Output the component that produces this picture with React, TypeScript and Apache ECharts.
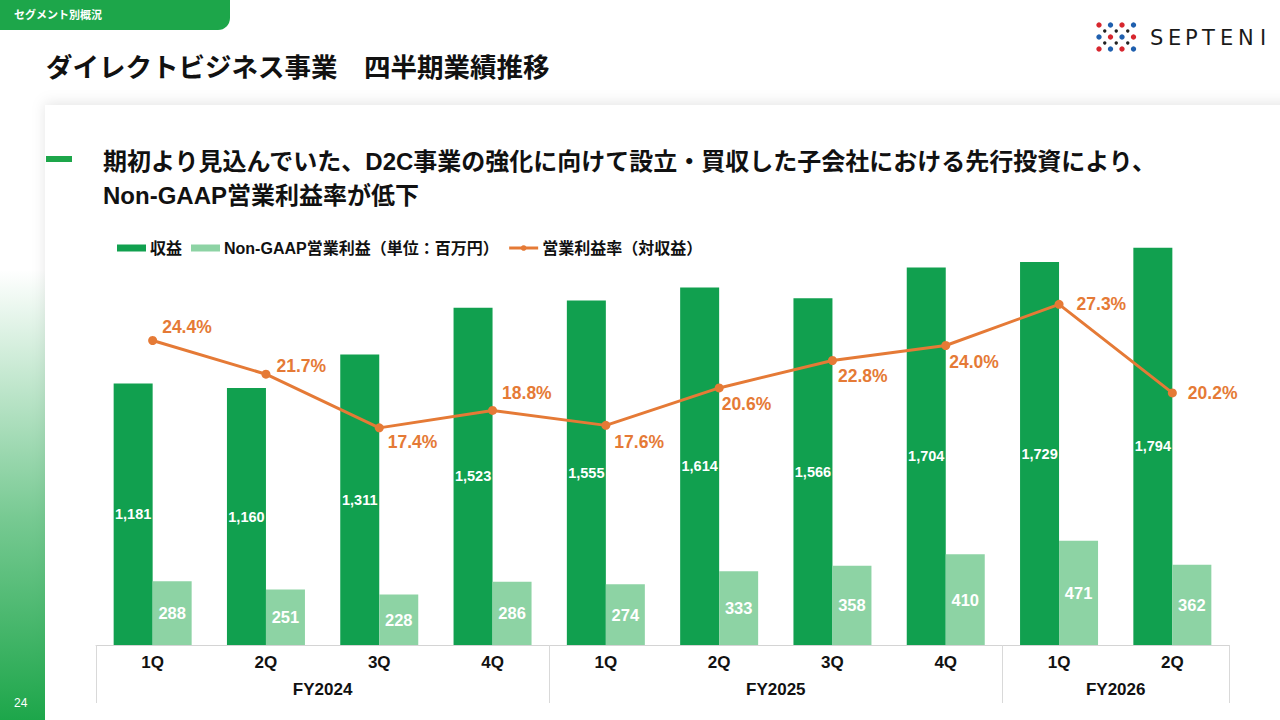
import React, { useEffect, useRef } from "react";
import * as echarts from "echarts";

const categories = ["1Q", "2Q", "3Q", "4Q", "1Q", "2Q", "3Q", "4Q", "1Q", "2Q"];
const fiscalYears = ["FY2024", "FY2025", "FY2026"];
const fiscalYearQuarterCounts = [4, 4, 2];
const revenue = [1181, 1160, 1311, 1523, 1555, 1614, 1566, 1704, 1729, 1794];
const operatingProfit = [288, 251, 228, 286, 274, 333, 358, 410, 471, 362];
const operatingMargin = [24.4, 21.7, 17.4, 18.8, 17.6, 20.6, 22.8, 24.0, 27.3, 20.2];

const seriesNames = ["収益", "Non-GAAP営業利益（単位：百万円）", "営業利益率（対収益）"];

// label placement styling for the margin line (dx, dy relative to default "right")
const marginLabelShift: [number, number][] = [
  [0, -14], [1, -8], [-1, 14], [0, -17], [-1, 17],
  [-7, 16], [-4, 16], [-6, 16], [8, 0], [6, 0],
];

const DARK = "#11A04F";
const LIGHT = "#8DD3A4";
const ORANGE = "#E57A36";
const FONT = "'Liberation Sans', 'Noto Sans CJK JP', sans-serif";

export default function App() {
  const ref = useRef<HTMLDivElement>(null);
  useEffect(() => {
    if (!ref.current) return;
    const chart = echarts.init(ref.current, null, { renderer: "svg" });

    const boundaries: number[] = [0];
    fiscalYearQuarterCounts.forEach((c) => boundaries.push(boundaries[boundaries.length - 1] + c));
    const fyCenters = fiscalYearQuarterCounts.map((c, i) => boundaries[i] + c / 2);

    const dotColors = [
      ["#D7262E", "#1F5FAE", "#D7262E", "#1F5FAE"],
      ["#1F5FAE", "#D7262E", "#1F5FAE", "#D7262E"],
      ["#D7262E", "#1F5FAE", "#D7262E", "#1F5FAE"],
    ];
    const logoDots: any[] = [];
    dotColors.forEach((row, r) => {
      row.forEach((c, k) => {
        logoDots.push({
          type: "circle",
          shape: { cx: 1099 + k * 11.5, cy: 25 + r * 12, r: 2.7 },
          style: { fill: c },
        });
      });
      if (r < 2) {
        for (let k = 0; k < 3; k++) {
          logoDots.push({
            type: "circle",
            shape: { cx: 1104.75 + k * 11.5, cy: 31 + r * 12, r: 1.7 },
            style: { fill: "#222" },
          });
        }
      }
    });
    const logoLetters = ["S", "E", "P", "T", "E", "N", "I"];
    const logoX = [1150, 1168, 1185, 1202, 1220, 1238, 1260];

    const option: any = {
      animation: false,
      backgroundColor: "#ffffff",
      textStyle: { fontFamily: FONT },
      graphic: [
        {
          type: "rect",
          z: 0,
          shape: { x: 45, y: 105, width: 1300, height: 700 },
          style: { fill: "#ffffff", shadowBlur: 14, shadowColor: "rgba(0,0,0,0.10)", shadowOffsetY: -2 },
        },
        {
          type: "rect",
          z: 0,
          shape: { x: 0, y: 270, width: 45, height: 450 },
          style: {
            fill: new echarts.graphic.LinearGradient(0, 0, 0, 1, [
              { offset: 0, color: "rgba(29,166,74,0)" },
              { offset: 0.55, color: "rgba(29,166,74,0.6)" },
              { offset: 1, color: "rgba(29,166,74,1)" },
            ]),
          },
        },
        {
          type: "rect",
          z: 0,
          shape: { x: 0, y: 0, width: 230, height: 30, r: [0, 0, 12, 0] },
          style: { fill: "#1DA64A" },
        },
        {
          type: "text",
          z: 1,
          x: 14,
          y: 15,
          style: { text: "セグメント別概況", fill: "#fff", font: `bold 11px ${FONT}`, textVerticalAlign: "middle" },
        },
        {
          type: "text",
          z: 1,
          x: 46,
          y: 68,
          style: { text: "ダイレクトビジネス事業　四半期業績推移", fill: "#111", font: `bold 26.5px ${FONT}`, textVerticalAlign: "middle" },
        },
        ...logoDots,
        ...logoLetters.map((l, i) => ({
          type: "text",
          z: 1,
          x: logoX[i],
          y: 38,
          style: { text: l, fill: "#1a1a1a", font: `500 21px 'DejaVu Sans', sans-serif`, textVerticalAlign: "middle" },
        })),
        {
          type: "rect",
          z: 1,
          shape: { x: 46, y: 156, width: 26, height: 6 },
          style: { fill: "#1DA64A" },
        },
        {
          type: "text",
          z: 1,
          x: 103,
          y: 161,
          style: {
            text: "期初より見込んでいた、D2C事業の強化に向けて設立・買収した子会社における先行投資により、",
            fill: "#111",
            font: `bold 24px ${FONT}`,
            textVerticalAlign: "middle",
          },
        },
        {
          type: "text",
          z: 1,
          x: 103,
          y: 195,
          style: { text: "Non-GAAP営業利益率が低下", fill: "#111", font: `bold 24px ${FONT}`, textVerticalAlign: "middle" },
        },
        {
          type: "text",
          z: 1,
          x: 14,
          y: 703,
          style: { text: "24", fill: "#fff", font: `12px ${FONT}`, textVerticalAlign: "middle" },
        },
      ],
      legend: {
        left: 112,
        top: 235,
        itemWidth: 29,
        itemHeight: 7,
        itemGap: 9,
        textStyle: { fontSize: 16, fontWeight: "bold", color: "#111", fontFamily: FONT, padding: [0, 0, 0, -1] },
        data: [
          { name: seriesNames[0], icon: "rect" },
          { name: seriesNames[1], icon: "rect" },
          { name: seriesNames[2], lineStyle: { width: 3, color: ORANGE } },
        ],
      },
      grid: { left: 96, right: 51, top: 202, bottom: 75, containLabel: false },
      xAxis: [
        {
          type: "category",
          data: categories,
          axisLine: { lineStyle: { color: "#d4d4d4", width: 1 } },
          axisTick: { show: false },
          axisLabel: { fontSize: 17, fontWeight: "bold", color: "#111", margin: 9, fontFamily: FONT },
        },
        {
          type: "value",
          min: 0,
          max: categories.length,
          position: "bottom",
          offset: 0,
          axisLine: { show: false },
          splitLine: { show: false },
          axisTick: {
            show: true,
            customValues: boundaries,
            length: 58,
            lineStyle: { color: "#d9d9d9", width: 1 },
          },
          axisLabel: {
            customValues: fyCenters,
            margin: 36,
            fontSize: 17,
            fontWeight: "bold",
            color: "#111",
            fontFamily: FONT,
            formatter: (v: number) => {
              const i = fyCenters.findIndex((c) => Math.abs(c - v) < 1e-6);
              return i >= 0 ? fiscalYears[i] : "";
            },
          },
        },
      ],
      yAxis: [
        { type: "value", min: 0, max: 2000, show: false, splitLine: { show: false } },
        { type: "value", min: 0, max: 35.5, show: false, splitLine: { show: false } },
      ],
      series: [
        {
          name: seriesNames[0],
          type: "bar",
          xAxisIndex: 0,
          yAxisIndex: 0,
          data: revenue,
          barWidth: 39,
          barGap: "0%",
          itemStyle: { color: DARK },
          label: {
            show: true,
            position: "inside",
            color: "#fff",
            fontSize: 14.5,
            fontWeight: "bold",
            fontFamily: FONT,
            formatter: (p: any) => Number(p.value).toLocaleString("en-US"),
          },
        },
        {
          name: seriesNames[1],
          type: "bar",
          xAxisIndex: 0,
          yAxisIndex: 0,
          data: operatingProfit,
          barWidth: 39,
          barGap: "0%",
          itemStyle: { color: LIGHT },
          label: {
            show: true,
            position: "inside",
            color: "#fff",
            fontSize: 16.5,
            fontWeight: "bold",
            fontFamily: FONT,
          },
        },
        {
          name: seriesNames[2],
          type: "line",
          xAxisIndex: 0,
          yAxisIndex: 1,
          z: 5,
          data: operatingMargin.map((v, i) => ({
            value: v,
            label: { offset: marginLabelShift[i] },
          })),
          symbol: "circle",
          symbolSize: 9,
          lineStyle: { color: ORANGE, width: 3 },
          itemStyle: { color: ORANGE },
          label: {
            show: true,
            position: "right",
            distance: 5,
            color: ORANGE,
            fontSize: 17.5,
            fontWeight: "bold",
            fontFamily: FONT,
            formatter: (p: any) => `${Number(p.value).toFixed(1)}%`,
          },
        },
      ],
    };
    chart.setOption(option);
    return () => chart.dispose();
  }, []);

  return (
    <div
      ref={ref}
      style={{ position: "fixed", left: 0, top: 0, width: 1280, height: 720 }}
    />
  );
}
